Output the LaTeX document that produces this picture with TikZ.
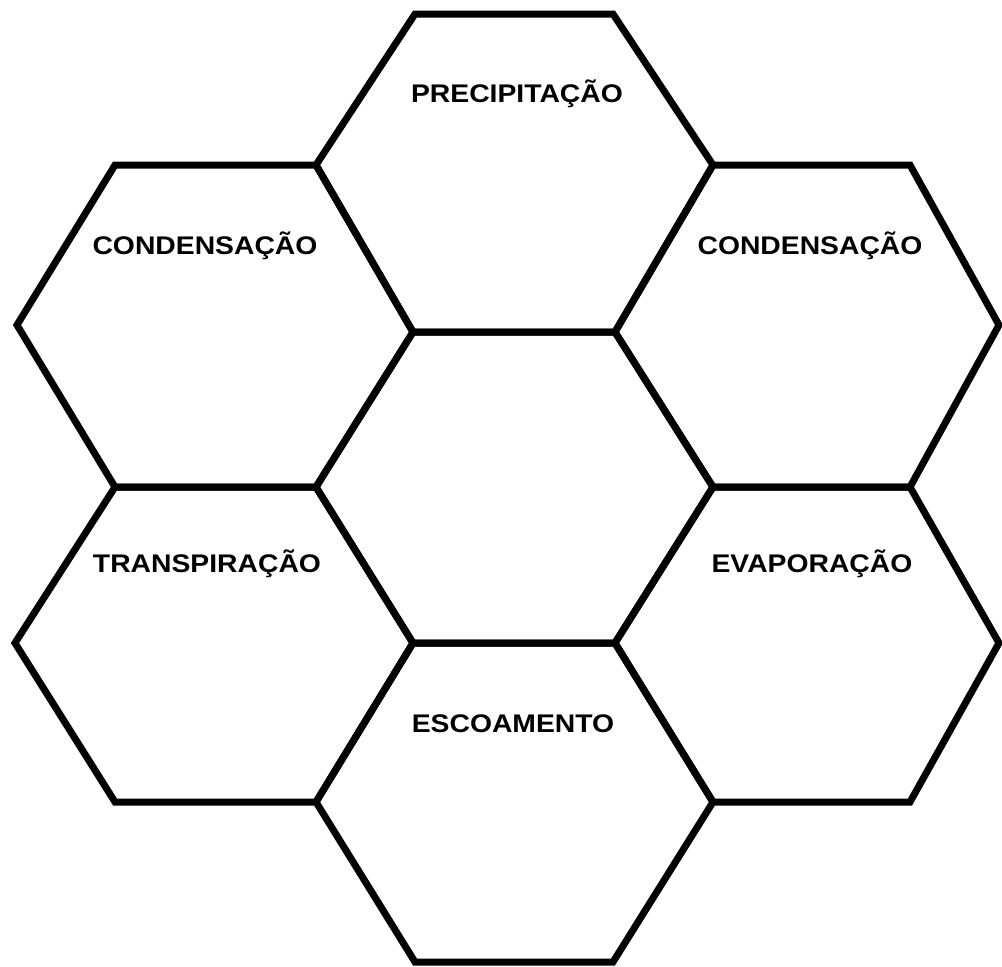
\documentclass[tikz,border=0pt]{standalone}
\usepackage{fontspec}
\usepackage{graphicx}
\setmainfont{Liberation Sans}
\tikzset{
  hexline/.style={draw=black, line width=7pt, line join=miter},
  hexlabel/.style={anchor=base, inner sep=0pt, font=\fontsize{25.5}{28}\selectfont\bfseries, text=black}
}
\newcommand{\hexlbl}[1]{\scalebox{1.11}[1]{#1}}
\begin{document}
\begin{tikzpicture}[x=1pt,y=-1pt]
\useasboundingbox (0,0) rectangle (1002,967);
% top
\draw[hexline] (415,14) -- (613,14) -- (713,165) -- (615,332) -- (413,332) -- (316,165) -- cycle;
% upper left
\draw[hexline] (115,165) -- (316,165) -- (413,332) -- (316,487) -- (115,487) -- (17,325) -- cycle;
% upper right
\draw[hexline] (713,165) -- (910,165) -- (999,325) -- (910,487) -- (713,487) -- (615,332) -- cycle;
% center
\draw[hexline] (413,332) -- (615,332) -- (713,487) -- (615,643) -- (413,643) -- (316,487) -- cycle;
% lower left
\draw[hexline] (115,487) -- (316,487) -- (413,643) -- (316,802) -- (115,802) -- (15,643) -- cycle;
% lower right
\draw[hexline] (713,487) -- (910,487) -- (999,643) -- (910,802) -- (713,802) -- (615,643) -- cycle;
% bottom
\draw[hexline] (413,643) -- (615,643) -- (713,802) -- (613,962) -- (415,962) -- (316,802) -- cycle;
% labels
\node[hexlabel] (prec) at (517,102) {\hexlbl{PRECIPITAÇÃO}};
\node[hexlabel] (condl) at (205,254) {\hexlbl{CONDENSAÇÃO}};
\node[hexlabel] (condr) at (810,254) {\hexlbl{CONDENSAÇÃO}};
\node[hexlabel] (trans) at (207,572) {\hexlbl{TRANSPIRAÇÃO}};
\node[hexlabel] (evap) at (812,572) {\hexlbl{EVAPORAÇÃO}};
\node[hexlabel] (esco) at (513,732) {\hexlbl{ESCOAMENTO}};
\end{tikzpicture}
\end{document}
